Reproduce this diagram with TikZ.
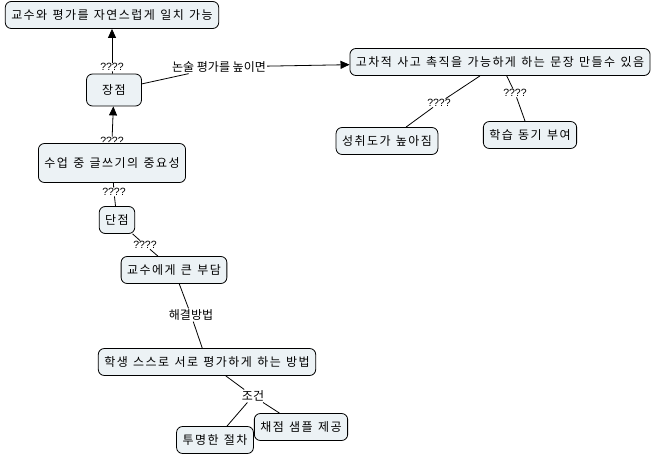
\documentclass[tikz,border=0pt]{standalone}
\usepackage{fontspec}
\setmainfont{Noto Sans CJK KR}
\newfontfamily\boxfont[LetterSpace=12,WordSpace=1.3]{Noto Sans CJK KR}
\newfontfamily\qfont{Liberation Sans}
\usepackage{xcolor}
\usetikzlibrary{arrows.meta}

\definecolor{conceptfill}{RGB}{236,242,245}

\tikzset{
  concept/.style={draw=black, fill=conceptfill, rounded corners=6pt, line width=0.8pt,
    inner xsep=6pt, inner ysep=0pt, minimum height=27pt, font=\boxfont\fontsize{12}{14}\selectfont},
  linkword/.style={inner sep=1pt, font=\fontsize{12}{14}\selectfont},
  qmark/.style={inner sep=0.5pt, font=\qfont\fontsize{10.5}{12}\selectfont},
  conn/.style={line width=0.8pt},
  toarrow/.style={conn, -{Triangle[length=9pt,width=8pt]}}
}

\begin{document}
\begin{tikzpicture}[x=1pt,y=-1pt]
\useasboundingbox (0,0) rectangle (657,457);
% concepts
\node[concept] (ilchi) at (112,15) {교수와 평가를 자연스럽게 일치 가능};
\node[concept, minimum width=55pt, minimum height=32pt] (jangjeom) at (114,90) {장점};
\node[concept] (gocha) at (500,62) {고차적 사고 촉직을 가능하게 하는 문장 만들수 있음};
\node[concept] (seongchwi) at (387,141) {성취도가 높아짐};
\node[concept] (donggi) at (530,135) {학습 동기 부여};
\node[concept, minimum height=39pt] (sueop) at (112,163) {수업 중 글쓰기의 중요성};
\node[concept] (danjeom) at (117,220) {단점};
\node[concept] (budam) at (174,270) {교수에게 큰 부담};
\node[concept] (pyeongga) at (207,362) {학생 스스로 서로 평가하게 하는 방법};
\node[concept] (chaejeom) at (301,427) {채점 샘플 제공};
\node[concept] (jeolcha) at (215,440) {투명한 절차};
% linking words
\node[qmark] (q1) at (112,67) {????};
\node[linkword] (nonsul) at (219,67) {논술 평가를 높이면};
\node[qmark] (q2) at (112,141) {????};
\node[qmark] (q3) at (439,103) {????};
\node[qmark] (q4) at (515,93) {????};
\node[qmark] (q5) at (114,192) {????};
\node[qmark] (q6) at (145,245) {????};
\node[linkword] (haegyeol) at (191,315) {해결방법};
\node[linkword] (jogeon) at (253,396) {조건};
% connections
\draw[conn] (jangjeom) -- (q1);
\draw[toarrow] (q1) -- (ilchi);
\draw[conn] (jangjeom) -- (nonsul);
\draw[toarrow] (nonsul) -- (gocha);
\draw[conn] (gocha.south) ++(-20,0) -- (q3);
\draw[conn] (q3) -- (seongchwi);
\draw[conn] (gocha) -- (q4);
\draw[conn] (q4) -- (donggi);
\draw[toarrow] (q2) -- (jangjeom);
\draw[conn] (sueop) -- (q5);
\draw[conn] (q5) -- (danjeom);
\draw[conn] (danjeom) -- (q6);
\draw[conn] (q6) -- (budam);
\draw[conn] (budam) -- (haegyeol);
\draw[conn] (haegyeol) -- (pyeongga);
\draw[conn] (pyeongga) -- (jogeon);
\draw[conn] (jogeon) -- (jeolcha);
\draw[conn] (jogeon) -- (chaejeom);
\end{tikzpicture}
\end{document}
